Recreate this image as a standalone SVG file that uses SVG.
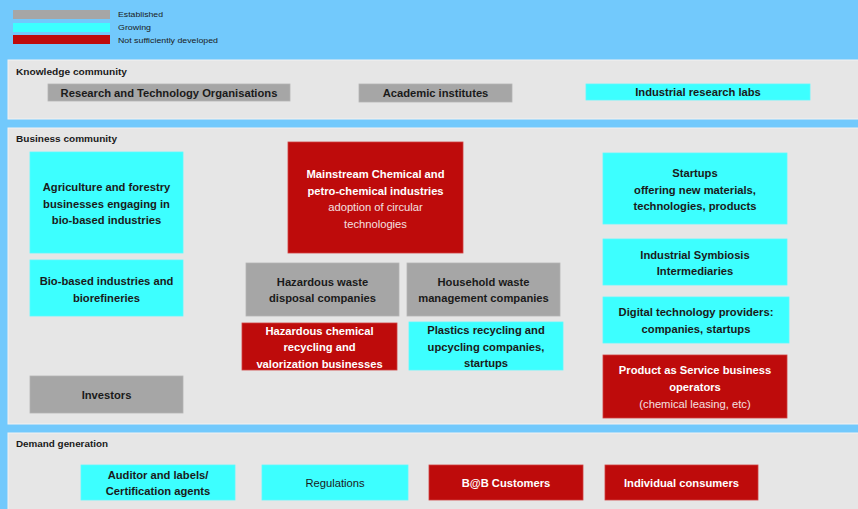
<svg xmlns="http://www.w3.org/2000/svg" width="858" height="509" viewBox="0 0 858 509">
<style>
text{font-family:"Liberation Sans",Arial,sans-serif;}
.bg{fill:#72C9FC;}
.panel{fill:#E6E6E6;stroke:#F2F2F2;stroke-width:1;}
.gray{fill:#A6A6A6;stroke:#B4B4B4;stroke-width:0.8;}
.cyan{fill:#3DFFFF;stroke:#5CFBFF;stroke-width:0.8;}
.red{fill:#BE0B0B;stroke:#D04040;stroke-width:0.8;}
.lbl{font-size:9px;font-weight:bold;fill:#1A1A1A;}
.leg{font-size:8px;fill:#1A1A1A;}
.t{font-size:11.2px;font-weight:bold;fill:#1A1A1A;text-anchor:middle;}
.tn{font-size:11.2px;fill:#1A1A1A;text-anchor:middle;}
.w{font-size:11.2px;font-weight:bold;fill:#FFFFFF;text-anchor:middle;}
.wn{font-size:11.2px;fill:#F4E0E0;text-anchor:middle;}
</style>
<rect class="bg" x="0" y="0" width="858" height="509"/>
<g id="legend">
<rect x="13" y="10" width="97" height="9" fill="#A6A6A6"/>
<rect x="13" y="23" width="97" height="9" fill="#3DFFFF"/>
<rect x="13" y="35" width="97" height="9" fill="#BE0B0B"/>
<text class="leg" x="118" y="17" textLength="45" lengthAdjust="spacingAndGlyphs">Established</text>
<text class="leg" x="118" y="30" textLength="33" lengthAdjust="spacingAndGlyphs">Growing</text>
<text class="leg" x="118" y="43" textLength="100" lengthAdjust="spacingAndGlyphs">Not sufficiently developed</text>
</g>
<g id="knowledge-community">
<rect class="panel" x="8" y="60" width="852" height="59"/>
<text class="lbl" x="16" y="75" textLength="111" lengthAdjust="spacingAndGlyphs">Knowledge community</text>
</g>
<g id="business-community">
<rect class="panel" x="8" y="128" width="852" height="296"/>
<text class="lbl" x="16" y="142" textLength="101" lengthAdjust="spacingAndGlyphs">Business community</text>
</g>
<g id="demand-generation">
<rect class="panel" x="8" y="433" width="852" height="80"/>
<text class="lbl" x="16" y="447" textLength="92" lengthAdjust="spacingAndGlyphs">Demand generation</text>
</g>
<g id="connectors"></g>
<g id="rto">
<rect class="gray" x="48" y="84" width="242" height="17"/>
<text class="t" x="169" y="96.5">Research and Technology Organisations</text>
</g>
<g id="academic">
<rect class="gray" x="359" y="84" width="153" height="18"/>
<text class="t" x="435.5" y="97">Academic institutes</text>
</g>
<g id="industrial-labs">
<rect class="cyan" x="586" y="84" width="224" height="16"/>
<text class="t" x="698" y="96">Industrial research labs</text>
</g>
<g id="agriculture">
<rect class="cyan" x="30" y="152" width="153" height="101"/>
<text class="t" x="106.5" y="191">Agriculture and forestry</text>
<text class="t" x="106.5" y="207.5">businesses engaging in</text>
<text class="t" x="106.5" y="224">bio-based industries</text>
</g>
<g id="biobased">
<rect class="cyan" x="30" y="260" width="153" height="56"/>
<text class="t" x="106.5" y="285">Bio-based industries and</text>
<text class="t" x="106.5" y="301.5">biorefineries</text>
</g>
<g id="investors">
<rect class="gray" x="30" y="376" width="153" height="37"/>
<text class="t" x="106.5" y="398.5">Investors</text>
</g>
<g id="mainstream">
<rect class="red" x="288" y="142" width="175" height="111"/>
<text class="w" x="375.5" y="178">Mainstream Chemical and</text>
<text class="w" x="375.5" y="194.5">petro-chemical industries</text>
<text class="wn" x="375.5" y="211">adoption of circular</text>
<text class="wn" x="375.5" y="227.5">technologies</text>
</g>
<g id="hazardous-waste">
<rect class="gray" x="246" y="263" width="153" height="53"/>
<text class="t" x="322.5" y="286">Hazardous waste</text>
<text class="t" x="322.5" y="302">disposal companies</text>
</g>
<g id="household-waste">
<rect class="gray" x="407" y="263" width="153" height="53"/>
<text class="t" x="483.5" y="286">Household waste</text>
<text class="t" x="483.5" y="302">management companies</text>
</g>
<g id="hazardous-chemical">
<rect class="red" x="242" y="323" width="155" height="47"/>
<text class="w" x="319.5" y="334.5">Hazardous chemical</text>
<text class="w" x="319.5" y="351">recycling and</text>
<text class="w" x="319.5" y="367.5">valorization businesses</text>
</g>
<g id="plastics">
<rect class="cyan" x="409" y="322" width="154" height="48"/>
<text class="t" x="486" y="334">Plastics recycling and</text>
<text class="t" x="486" y="350.5">upcycling companies,</text>
<text class="t" x="486" y="367">startups</text>
</g>
<g id="startups">
<rect class="cyan" x="603" y="153" width="184" height="71"/>
<text class="t" x="695" y="177">Startups</text>
<text class="t" x="695" y="193.5">offering new materials,</text>
<text class="t" x="695" y="210">technologies, products</text>
</g>
<g id="symbiosis">
<rect class="cyan" x="603" y="239" width="184" height="46"/>
<text class="t" x="695" y="259">Industrial Symbiosis</text>
<text class="t" x="695" y="275">Intermediaries</text>
</g>
<g id="digital">
<rect class="cyan" x="603" y="297" width="186" height="46"/>
<text class="t" x="696" y="316">Digital technology providers:</text>
<text class="t" x="696" y="332.5">companies, startups</text>
</g>
<g id="product-service">
<rect class="red" x="603" y="355" width="184" height="63"/>
<text class="w" x="695" y="374">Product as Service business</text>
<text class="w" x="695" y="391">operators</text>
<text class="wn" x="695" y="408">(chemical leasing, etc)</text>
</g>
<g id="auditor">
<rect class="cyan" x="81" y="465" width="154" height="35"/>
<text class="t" x="158" y="478.5">Auditor and labels/</text>
<text class="t" x="158" y="495">Certification agents</text>
</g>
<g id="regulations">
<rect class="cyan" x="262" y="465" width="146" height="35"/>
<text class="tn" x="335" y="486.5">Regulations</text>
</g>
<g id="b2b">
<rect class="red" x="429" y="465" width="154" height="35"/>
<text class="w" x="506" y="486.5">B@B Customers</text>
</g>
<g id="individual">
<rect class="red" x="605" y="465" width="153" height="35"/>
<text class="w" x="681.5" y="486.5">Individual consumers</text>
</g>
</svg>
